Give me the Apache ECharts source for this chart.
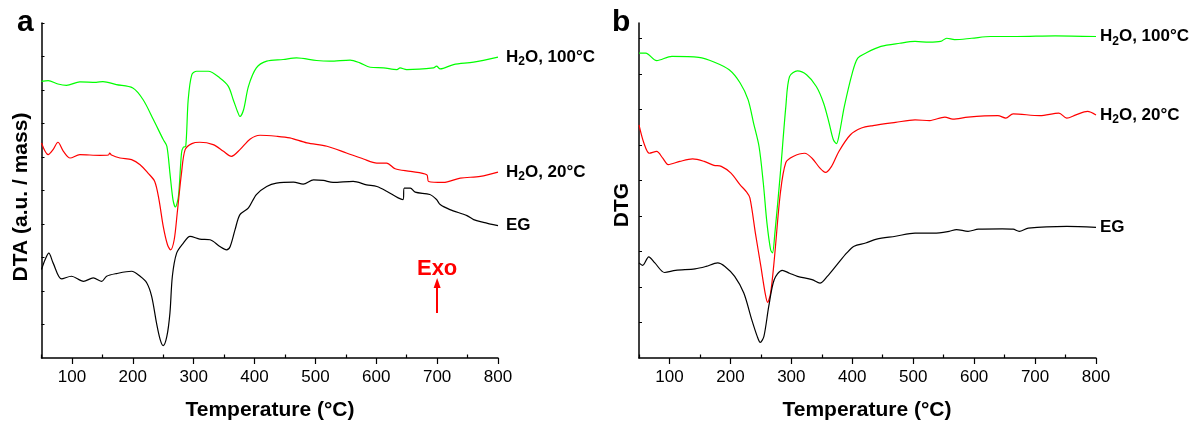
<!DOCTYPE html>
<html>
<head>
<meta charset="utf-8">
<script src="https://cdn.jsdelivr.net/npm/echarts@6/dist/echarts.min.js"></script>
<style>
html,body{margin:0;padding:0;background:#fff;}
#chart{width:1194px;height:423px;}
</style>
</head>
<body>
<div id="chart"></div>
<script>
// ---------- Data ----------
// Panel a: DTA (a.u. / mass), [temperature °C, value]
const dtaH2O100 = [[50,8.26],[61,8.28],[77,8.18],[91,8.14],[113,8.24],[140,8.23],[151,8.25],[173,8.16],[200,8.06],[217,7.71],[234,7.11],[250,6.52],[256,6.32],[261,5.52],[266,4.73],[270,4.51],[275,4.83],[280,6.12],[283,6.29],[287,6.32],[291,7.71],[297,8.46],[305,8.56],[324,8.56],[343,8.36],[357,8.11],[365,7.71],[372,7.36],[376,7.21],[382,7.41],[390,8.11],[403,8.66],[420,8.86],[447,8.91],[469,8.96],[502,8.88],[524,8.86],[557,8.89],[573,8.81],[590,8.68],[612,8.66],[634,8.61],[639,8.66],[650,8.61],[694,8.66],[699,8.71],[705,8.63],[727,8.76],[760,8.83],[800,8.98]];
const dtaH2O20 = [[50,6.42],[61,6.07],[69,6.22],[77,6.44],[86,6.17],[97,5.97],[113,6.07],[146,6.05],[160,6.06],[162,6.12],[165,6.06],[179,5.97],[198,5.92],[212,5.77],[225,5.52],[236,5.27],[243,4.73],[250,3.93],[257,3.38],[262,3.23],[268,3.53],[273,4.33],[280,5.52],[286,6.22],[297,6.40],[310,6.44],[332,6.37],[349,6.17],[362,6.02],[376,6.22],[393,6.54],[409,6.65],[436,6.62],[458,6.57],[486,6.42],[519,6.32],[551,6.12],[579,5.94],[601,5.82],[617,5.82],[631,5.65],[656,5.57],[683,5.47],[686,5.27],[710,5.24],[738,5.37],[771,5.42],[800,5.55]];
const dtaEG = [[50,2.64],[56,2.94],[62,3.13],[69,2.84],[83,2.36],[99,2.44],[119,2.29],[135,2.39],[149,2.29],[157,2.44],[173,2.52],[198,2.59],[212,2.44],[223,2.24],[231,1.84],[239,1.04],[245,0.55],[250,0.37],[256,0.65],[261,1.34],[265,2.44],[272,3.13],[283,3.43],[294,3.63],[310,3.55],[327,3.53],[343,3.33],[354,3.23],[360,3.33],[368,3.83],[376,4.28],[390,4.48],[403,4.88],[420,5.12],[436,5.22],[464,5.25],[480,5.19],[497,5.32],[513,5.30],[529,5.24],[562,5.27],[584,5.17],[601,5.12],[617,4.98],[636,4.78],[644,4.73],[646,5.07],[656,5.07],[664,4.95],[688,4.88],[699,4.73],[705,4.58],[721,4.43],[749,4.25],[760,4.13],[776,4.05],[800,3.95]];

// Panel b: DTG, [temperature °C, value]
const dtgH2O100 = [[50,8.59],[61,8.59],[79,8.38],[104,8.50],[148,8.47],[173,8.34],[198,8.12],[216,7.75],[229,7.28],[238,6.62],[247,5.96],[254,4.93],[260,3.80],[266,3.05],[269,2.96],[273,3.52],[282,5.21],[291,7.09],[297,7.93],[310,8.09],[325,7.98],[341,7.65],[353,7.18],[362,6.62],[369,6.15],[374,6.04],[379,6.34],[387,7.09],[400,8.03],[409,8.45],[422,8.59],[447,8.78],[478,8.87],[503,8.92],[526,8.90],[545,8.92],[555,9.01],[568,8.97],[596,9.01],[627,9.06],[670,9.06],[733,9.08],[800,9.06]];
const dtgH2O20 = [[50,6.57],[58,6.06],[67,5.77],[79,5.82],[89,5.63],[98,5.45],[117,5.54],[138,5.61],[157,5.54],[173,5.43],[185,5.40],[201,5.21],[216,4.88],[226,4.69],[232,4.51],[241,3.52],[250,2.58],[257,1.83],[261,1.57],[266,1.83],[272,2.77],[282,4.65],[291,5.51],[303,5.68],[322,5.77],[334,5.63],[347,5.35],[356,5.23],[366,5.40],[378,5.82],[397,6.29],[415,6.48],[434,6.55],[471,6.64],[503,6.71],[527,6.69],[552,6.79],[565,6.73],[590,6.79],[639,6.83],[652,6.76],[664,6.88],[708,6.83],[739,6.90],[752,6.76],[767,6.85],[786,6.95],[800,6.85]];
const dtgEG = [[50,2.68],[56,2.61],[66,2.85],[76,2.68],[92,2.41],[110,2.47],[142,2.51],[160,2.58],[179,2.68],[191,2.58],[207,2.30],[222,1.83],[235,1.08],[244,0.61],[249,0.44],[255,0.61],[263,1.46],[272,2.21],[285,2.47],[297,2.39],[310,2.30],[334,2.21],[347,2.11],[359,2.30],[375,2.63],[391,2.96],[403,3.15],[422,3.24],[440,3.35],[471,3.43],[503,3.52],[534,3.52],[559,3.57],[571,3.62],[590,3.57],[607,3.63],[646,3.64],[664,3.63],[674,3.57],[689,3.66],[752,3.71],[800,3.68]];

const xMajorTicks = [100,200,300,400,500,600,700,800];
const xMinorTicks = [50,150,250,350,450,550,650,750];
const yTicksA = [1,2,3,4,5,6,7,8,9,10];
const yTicksB = [1,2,3,4,5,6,7,8,9];
const exoArrow = [[700,1.34],[700,2.24]];

// ---------- Chart ----------
const FONT = '"Liberation Sans", Arial, sans-serif';
const chart = echarts.init(document.getElementById('chart'), null, {renderer:'canvas'});

const labelRich = {
  b:{fontFamily:FONT,fontSize:17,fontWeight:'bold',color:'#000'},
  s:{fontFamily:FONT,fontSize:12,fontWeight:'bold',color:'#000',padding:[10,0,0,0]}
};
function mkSeries(name, data, color, xi, labelText, dist, extra){
  const s = {
    name, type:'line', xAxisIndex:xi, yAxisIndex:xi, data,
    showSymbol:false, smooth:0.3, silent:true,
    lineStyle:{color, width:1.2}, itemStyle:{color},
    endLabel:{show:true, distance:dist, formatter:labelText, rich:labelRich}
  };
  return Object.assign(s, extra||{});
}

function xAxes(gi){
  return [{
    gridIndex:gi, type:'value', min:50, max:800, interval:50,
    axisLine:{show:true, onZero:false, lineStyle:{color:'#000', width:1.5}},
    axisTick:{show:true, inside:false, length:6, customValues:xMajorTicks, lineStyle:{color:'#000', width:1.2}},
    axisLabel:{show:true, customValues:xMajorTicks, margin:11, color:'#000', fontFamily:FONT, fontSize:17},
    splitLine:{show:false}
  },{
    gridIndex:gi, type:'value', min:50, max:800, interval:50,
    axisLine:{show:false},
    axisTick:{show:true, inside:false, length:3.5, customValues:xMinorTicks, lineStyle:{color:'#000', width:1.2}},
    axisLabel:{show:false}, splitLine:{show:false}
  }];
}
function yAxis(gi, max, ticks){
  return {
    gridIndex:gi, type:'value', min:0, max:max,
    axisLine:{show:true, onZero:false, lineStyle:{color:'#000', width:1.5}},
    axisTick:{show:true, inside:true, length:3, customValues:ticks, lineStyle:{color:'#000', width:1}},
    axisLabel:{show:false}, splitLine:{show:false}
  };
}

const xa = xAxes(0), xb = xAxes(1);
const option = {
  animation:false,
  backgroundColor:'#fff',
  grid:[
    {left:41.5, top:23, right:696, bottom:65},
    {left:639, top:23, right:98, bottom:65}
  ],
  xAxis:[xa[0], xb[0], xa[1], xb[1]],
  yAxis:[yAxis(0, 10, yTicksA), yAxis(1, 9.44, yTicksB)],
  series:[
    mkSeries('a-100', dtaH2O100, '#00ff00', 0, '{b|H}{s|2}{b|O, 100°C}', 8),
    mkSeries('a-20', dtaH2O20, '#ff0000', 0, '{b|H}{s|2}{b|O, 20°C}', 8),
    mkSeries('a-EG', dtaEG, '#000000', 0, '{b|EG}', 8, {
      markLine:{
        silent:true, symbol:['none','triangle'], symbolSize:[7,10], animation:false,
        lineStyle:{color:'#ff0000', width:2, type:'solid'},
        label:{show:true, position:'end', formatter:'Exo', color:'#ff0000', fontFamily:FONT, fontSize:22, fontWeight:'bold', distance:3},
        data:[[{coord:exoArrow[0]},{coord:exoArrow[1]}]]
      }
    }),
    mkSeries('b-100', dtgH2O100, '#00ff00', 1, '{b|H}{s|2}{b|O, 100°C}', 4),
    mkSeries('b-20', dtgH2O20, '#ff0000', 1, '{b|H}{s|2}{b|O, 20°C}', 4),
    mkSeries('b-EG', dtgEG, '#000000', 1, '{b|EG}', 4)
  ],
  graphic:[
    {type:'text', left:17, top:8, style:{text:'a', font:'bold 30px '+FONT, fill:'#000'}},
    {type:'text', left:612, top:8, style:{text:'b', font:'bold 30px '+FONT, fill:'#000'}},
    {type:'text', x:270, y:410, style:{text:'Temperature (°C)', font:'bold 21px '+FONT, fill:'#000', textAlign:'center', textVerticalAlign:'middle'}},
    {type:'text', x:867, y:410, style:{text:'Temperature (°C)', font:'bold 21px '+FONT, fill:'#000', textAlign:'center', textVerticalAlign:'middle'}},
    {type:'text', x:21, y:197, rotation:Math.PI/2, style:{text:'DTA (a.u. / mass)', font:'bold 21px '+FONT, fill:'#000', textAlign:'center', textVerticalAlign:'middle'}},
    {type:'text', x:622, y:205, rotation:Math.PI/2, style:{text:'DTG', font:'bold 21px '+FONT, fill:'#000', textAlign:'center', textVerticalAlign:'middle'}}
  ]
};
chart.setOption(option);
</script>
</body>
</html>
